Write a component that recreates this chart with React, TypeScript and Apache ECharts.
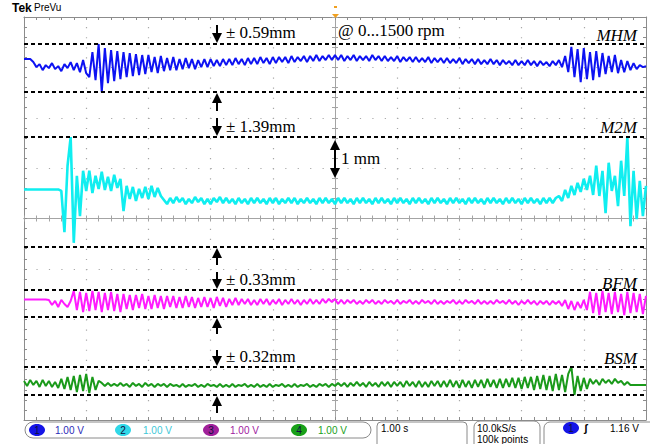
import React, { useEffect, useRef } from "react";
import * as echarts from "echarts";

// time base: 10 divisions x 1.00 s/div, sample step in seconds
const STEP = 0.05;

// channel display positions (in divisions from screen centre)
const CH_POS = { MHM: 3.105, M2M: 0.347, BFM: -1.657, BSM: -3.284 };

// channel 1 (MHM) – values in V (1.00 V/div)
const mhm = [
  0.06, 0.06, 0.06, 0.0, -0.1, -0.04, -0.16, -0.06, -0.12, -0.02,
  -0.14, -0.08, -0.18, -0.04, -0.12, 0.0, -0.16, -0.02, -0.2, 0.04,
  -0.22, -0.3, 0.2, -0.36, 0.36, -0.6, 0.28, -0.42, 0.24, -0.38,
  0.22, -0.34, 0.2, -0.3, 0.18, -0.28, 0.16, -0.26, 0.14, -0.24,
  0.14, -0.2, 0.1, -0.22, 0.12, -0.18, 0.08, -0.16, 0.1, -0.16,
  0.06, -0.14, 0.08, -0.12, 0.06, -0.14, 0.04, -0.1, 0.06, -0.1,
  0.06, -0.08, 0.04, -0.08, 0.06, -0.06, 0.06, -0.06, 0.08, -0.04,
  0.06, -0.06, 0.08, -0.04, 0.08, -0.04, 0.1, -0.02, 0.08, -0.04,
  0.1, -0.02, 0.1, 0.0, 0.1, -0.02, 0.12, 0.0, 0.1, 0.02,
  0.12, 0.0, 0.12, 0.02, 0.14, 0.02, 0.12, 0.04, 0.14, 0.04,
  0.14, 0.04, 0.14, 0.02, 0.12, 0.04, 0.14, 0.02, 0.12, 0.04,
  0.12, 0.02, 0.14, 0.04, 0.12, 0.02, 0.12, 0.02, 0.1, 0.02,
  0.12, 0.0, 0.1, 0.02, 0.1, 0.0, 0.1, 0.0, 0.08, 0.0,
  0.1, -0.02, 0.08, 0.0, 0.08, -0.02, 0.08, -0.02, 0.06, -0.02,
  0.08, -0.04, 0.06, -0.02, 0.06, -0.04, 0.06, -0.04, 0.04, -0.04,
  0.06, -0.04, 0.04, -0.06, 0.04, -0.04, 0.02, -0.06, 0.04, -0.06,
  0.02, -0.06, 0.04, -0.06, 0.02, -0.08, 0.02, -0.06, 0.0, -0.08,
  0.02, -0.06, 0.04, -0.1, 0.12, -0.2, 0.3, -0.3, 0.26, -0.4,
  0.28, -0.34, 0.2, -0.36, 0.22, -0.3, 0.18, -0.24, 0.12, -0.2,
  0.14, -0.22, 0.04, -0.2, 0.02, -0.16, -0.02, -0.14, -0.06, -0.1,
  -0.08,
];

// channel 2 (M2M)
const m2m = [
  0.23, 0.23, 0.23, 0.23, 0.23, 0.23, 0.23, 0.23, 0.23, 0.23, 0.23, 0.23,
  0.2, -0.62, 0.7, 1.27, -0.83, 0.5, -0.3, 0.6,
  0.2, 0.6, 0.16, 0.5, 0.24, 0.58, 0.22, 0.48, 0.2, 0.52, 0.26, 0.44,
  -0.2,
  0.3, 0.04, 0.28, 0.0, 0.24, 0.06, 0.28, 0.04, 0.3, 0.08, 0.26, 0.1,
  0.02, -0.06, 0.06, -0.04, 0.08, -0.02, 0.06, -0.06, 0.04, -0.04,
  0.08, -0.02, 0.06, -0.06, 0.04, -0.06, 0.06, -0.02, 0.08, -0.04,
  0.06, -0.04, 0.04, -0.06, 0.06, -0.04, 0.04, -0.06, 0.06, -0.04,
  0.06, -0.04, 0.04, -0.06, 0.06, -0.04, 0.06, -0.06, 0.04, -0.04,
  0.06, -0.04, 0.06, -0.06, 0.04, -0.04, 0.06, -0.04, 0.04, -0.06,
  0.06, -0.04, 0.06, -0.04, 0.04, -0.06, 0.06, -0.04, 0.06, -0.04,
  0.04, -0.06, 0.06, -0.04, 0.06, -0.04, 0.04, -0.06, 0.06, -0.04,
  0.06, -0.04, 0.04, -0.06, 0.06, -0.04, 0.06, -0.04, 0.04, -0.06,
  0.06, -0.04, 0.06, -0.04, 0.04, -0.06, 0.06, -0.04, 0.06, -0.04,
  0.04, -0.06, 0.06, -0.04, 0.06, -0.04, 0.04, -0.06, 0.06, -0.04,
  0.06, -0.04, 0.04, -0.06, 0.06, -0.04, 0.06, -0.04, 0.04, -0.06,
  0.06, -0.04, 0.06, -0.04, 0.04, -0.06, 0.06, -0.04, 0.06, -0.04,
  0.04, -0.06, 0.06, -0.04, 0.06, -0.04, 0.06,
  0.1, 0.0, 0.22, 0.06, 0.3, 0.12, 0.36, 0.18, 0.44, 0.22, 0.5,
  0.12, 0.7, 0.1, 0.6, -0.24, 0.76, 0.2, 0.5, -0.1, 0.8, 0.1,
  1.27, -0.5, 0.6, -0.36, 0.4, -0.3, 0.3,
];

// channel 3 (BFM)
const bfm = [
  0.05, 0.05, 0.05, 0.05, 0.05, 0.05, 0.05, 0.05,
  0.04, -0.06, 0.02, -0.1, 0.04, -0.04, -0.1, 0.02,
  0.22, -0.16, 0.2, -0.2, 0.18, -0.18, 0.22, -0.16, 0.2, -0.2, 0.18, -0.16, 0.2, -0.18, 0.16, -0.2,
  0.16, -0.14, 0.14, -0.16, 0.14, -0.12, 0.16, -0.14, 0.12, -0.14, 0.14, -0.12, 0.12, -0.14, 0.12, -0.1,
  0.12, -0.12, 0.1, -0.12, 0.12, -0.1, 0.1, -0.12, 0.08, -0.1, 0.1, -0.1, 0.08, -0.12, 0.1, -0.08, 0.08, -0.1,
  0.06, -0.06, 0.08, -0.06, 0.06, -0.04, 0.06, -0.06, 0.04, -0.06, 0.06, -0.04, 0.06, -0.06, 0.04, -0.04,
  0.06, -0.06, 0.04, -0.04, 0.06, -0.04, 0.04, -0.06, 0.04, -0.04, 0.06, -0.04, 0.04, -0.04, 0.06, -0.02, 0.06,
  0.0, 0.06, -0.04, 0.04, -0.04, 0.04, -0.02, 0.04, -0.04, 0.02,
  -0.04, 0.04, -0.02, 0.04, -0.04, 0.02, -0.04, 0.04, -0.02, 0.02,
  -0.04, 0.04, -0.04, 0.02, -0.02, 0.04, -0.04, 0.02, -0.04, 0.04,
  -0.02, 0.02, -0.04, 0.04, -0.04, 0.02, -0.04, 0.02, -0.02, 0.04,
  -0.04, 0.02, -0.04, 0.04, -0.02, 0.02, -0.04, 0.04, -0.04, 0.02,
  -0.04, 0.02, -0.04, 0.04, -0.02, 0.02, -0.04, 0.04, -0.04, 0.02,
  -0.06, 0.02, -0.04, 0.04, -0.04, 0.02, -0.06, 0.02, -0.04, 0.02,
  -0.06, 0.02, -0.04,
  0.02, -0.08, 0.04, -0.14, 0.02, -0.16, 0.0, -0.12, 0.04, -0.16,
  0.2, -0.22, 0.18, -0.26, 0.22, -0.2, 0.18, -0.24, 0.2, -0.2, 0.16, -0.26, 0.2, -0.22, 0.18, -0.2, 0.16, -0.24, 0.12,
];

// channel 4 (BSM)
const bsm = [
  0.06, -0.04, 0.08, -0.02, 0.06, -0.06, 0.08, -0.04, 0.06, -0.06, 0.04, -0.08,
  0.1, -0.1, 0.14, -0.12, 0.16, -0.16, 0.18, -0.14, 0.2, -0.18, 0.14, -0.12, 0.06,
  0.02, -0.04, 0.02, -0.04, 0.0, -0.04, 0.02, -0.04, 0.0, -0.06,
  0.02, -0.04, 0.0, -0.06, 0.02, -0.04, 0.0, -0.06, 0.0, -0.04,
  0.0, -0.06, 0.0, -0.04, -0.02, -0.06, 0.0, -0.06, -0.02, -0.04,
  0.0, -0.06, -0.02, -0.06, 0.0, -0.04, -0.02, -0.06, 0.0, -0.06,
  -0.02, -0.06, 0.0, -0.06, -0.02, -0.04, 0.0, -0.06, -0.02, -0.06,
  0.0, -0.06, -0.02, -0.06, 0.0, -0.06, -0.02, -0.04, 0.0, -0.06,
  -0.02, -0.06, 0.0, -0.06, -0.02, -0.04, 0.0, -0.06, -0.02, -0.06,
  0.0, -0.04, 0.0, -0.06,
  0.0, -0.04, 0.02, -0.04, 0.02, -0.06, 0.02, -0.04, 0.04, -0.04,
  0.02, -0.06, 0.04, -0.04, 0.02, -0.06, 0.04, -0.04, 0.04, -0.06,
  0.04, -0.04, 0.04, -0.06, 0.06, -0.04, 0.04, -0.06, 0.06, -0.06,
  0.04, -0.06, 0.06, -0.04, 0.06, -0.06, 0.06, -0.06, 0.08, -0.06,
  0.06, -0.08, 0.08, -0.06, 0.06, -0.08, 0.08, -0.06, 0.08, -0.08,
  0.1, -0.06, 0.08, -0.08, 0.1, -0.08, 0.1, -0.06, 0.12, -0.08,
  0.12, -0.1, 0.14, -0.08, 0.14, -0.12, 0.16, -0.1, 0.18, -0.12, 0.16, -0.14,
  0.2, -0.12, 0.18, -0.16, 0.2, 0.34, -0.22, 0.16, -0.14, 0.12, -0.1,
  0.1, 0.0, 0.08, -0.02, 0.1, 0.02, 0.08, 0.0, 0.1, 0.02, 0.06, -0.02, 0.04,
  -0.02, -0.02, -0.02, -0.02, -0.02, -0.02,
];

// dotted tolerance-band lines (divisions)
const bandLevels = [3.462, 2.51, 1.617, -0.565, -1.419, -1.954, -2.946, -3.502];

// annotation texts
const tolLabels = ["± 0.59mm", "± 1.39mm", "± 0.33mm", "± 0.32mm"];
const chLabels = ["MHM", "M2M", "BFM", "BSM"];
const speedLabel = "@ 0...1500 rpm";
const scaleLabel = "1 mm";
const chSettings = ["1.00 V", "1.00 V", "1.00 V", "1.00 V"];
const timeBase = "1.00 s";
const sampleRate = ["10.0kS/s", "100k points"];
const trigger = "1.16 V";

const COLORS = ["#0d12f2", "#10eef0", "#ff1aff", "#1a9a1a"];

const SERIF = "'Liberation Serif', 'Times New Roman', serif";
const SANS = "'Liberation Sans', Arial, sans-serif";

function toPoints(vals: number[], pos: number) {
  return vals.map((v, i) => [i * STEP, v + pos]);
}

function arrowDown(x: number, top: number, tip: number) {
  return [
    { type: "line", z: 50, shape: { x1: x, y1: top, x2: x, y2: tip - 8 }, style: { stroke: "#000", lineWidth: 2 } },
    { type: "polygon", z: 50, shape: { points: [[x - 5, tip - 10], [x + 5, tip - 10], [x, tip]] }, style: { fill: "#000" } },
  ];
}
function arrowUp(x: number, tip: number, bottom: number) {
  return [
    { type: "line", z: 50, shape: { x1: x, y1: tip + 8, x2: x, y2: bottom }, style: { stroke: "#000", lineWidth: 2 } },
    { type: "polygon", z: 50, shape: { points: [[x - 5, tip + 10], [x + 5, tip + 10], [x, tip]] }, style: { fill: "#000" } },
  ];
}
function txt(x: number, y: number, text: string, opts: any = {}) {
  return {
    type: "text",
    z: 60,
    x,
    y,
    style: {
      text,
      fontFamily: opts.family || SERIF,
      fontSize: opts.size || 17,
      fontStyle: opts.italic ? "italic" : "normal",
      fontWeight: opts.bold ? "bold" : "normal",
      fill: opts.color || "#000",
      align: opts.align || "left",
      verticalAlign: "middle",
    },
  };
}

export default function App() {
  const ref = useRef<HTMLDivElement>(null);
  useEffect(() => {
    if (!ref.current) return;
    const chart = echarts.init(ref.current, undefined, { renderer: "svg" });

    const GRID_H = 403;
    const GRID_W = 622;
    const borderColor = "#8c8c8c";
    const centerColor = "#a4a4a4";
    const dotColor = "#a8a8a8";

    const baseX = (extra: any) => ({
      type: "value",
      min: 0,
      max: 10,
      interval: 1,
      axisLabel: { show: false },
      splitLine: { show: false },
      ...extra,
    });
    const baseY = (extra: any) => ({
      type: "value",
      min: -4,
      max: 4,
      interval: 1,
      axisLabel: { show: false },
      splitLine: { show: false },
      ...extra,
    });
    const tickStyle = (color: string, inside: boolean) => ({
      axisLine: { show: true, onZero: false, lineStyle: { color, width: 1 } },
      axisTick: { show: true, inside, length: 3, lineStyle: { color } },
      minorTick: { show: true, splitNumber: 5, length: 3, lineStyle: { color } },
    });

    const ann: any[] = [];
    // Tek header
    ann.push(txt(12, 8, "Tek", { family: SANS, size: 12, bold: true }));
    ann.push(txt(34, 7, "PreVu", { family: SANS, size: 10 }));
    // trigger marker
    ann.push({ type: "rect", z: 50, shape: { x: 334, y: 6, width: 3, height: 2 }, style: { fill: "#f0a020" } });
    ann.push({ type: "polygon", z: 50, shape: { points: [[332, 14], [339, 14], [335.5, 18]] }, style: { fill: "#f0a020" } });

    // tolerance arrows and labels
    const ax = 217;
    ann.push(...arrowDown(ax, 25, 43), ...arrowUp(ax, 93, 111));
    ann.push(...arrowDown(ax, 118, 136), ...arrowUp(ax, 248, 265));
    ann.push(...arrowDown(ax, 272, 289), ...arrowUp(ax, 318, 334));
    ann.push(...arrowDown(ax, 350, 366), ...arrowUp(ax, 396, 413));
    const tolY = [32, 126, 279, 356];
    tolLabels.forEach((t, i) => ann.push(txt(226, tolY[i], t)));
    const labY = [35, 127, 283, 358];
    chLabels.forEach((t, i) => ann.push(txt(637, labY[i], t, { italic: true, align: "right" })));
    ann.push(txt(338, 30, speedLabel));
    // 1 mm scale double arrow
    ann.push({ type: "line", z: 50, shape: { x1: 335, y1: 148, x2: 335, y2: 170 }, style: { stroke: "#000", lineWidth: 2 } });
    ann.push({ type: "polygon", z: 50, shape: { points: [[330, 150], [340, 150], [335, 140]] }, style: { fill: "#000" } });
    ann.push({ type: "polygon", z: 50, shape: { points: [[330, 168], [340, 168], [335, 178]] }, style: { fill: "#000" } });
    ann.push(txt(341, 158, scaleLabel));

    // status bar
    const boxStroke = "#8a8a8a";
    ann.push({ type: "rect", z: 40, shape: { x: 25, y: 422, width: 346, height: 16, r: 8 }, style: { fill: "#fff", stroke: boxStroke, lineWidth: 1 } });
    ann.push({ type: "rect", z: 40, shape: { x: 377, y: 422, width: 90, height: 30, r: 4 }, style: { fill: "#fff", stroke: boxStroke, lineWidth: 1 } });
    ann.push({ type: "rect", z: 40, shape: { x: 474, y: 421, width: 66, height: 30, r: 6 }, style: { fill: "#fff", stroke: boxStroke, lineWidth: 1 } });
    ann.push({ type: "rect", z: 40, shape: { x: 544, y: 422, width: 120, height: 30, r: 6 }, style: { fill: "#fff", stroke: boxStroke, lineWidth: 1 } });
    const circFill = ["#1414e6", "#30d8e8", "#a0209a", "#18a018"];
    const setColor = ["#2a2ab8", "#40c8d8", "#a020a0", "#20a020"];
    const circX = [37, 123, 211, 299];
    const setX = [55, 143, 230, 318];
    chSettings.forEach((s, i) => {
      ann.push({ type: "ellipse", z: 45, shape: { cx: circX[i], cy: 430, rx: 8, ry: 6 }, style: { fill: circFill[i] } });
      ann.push(txt(circX[i], 430.5, String(i + 1), { family: SANS, size: 10, align: "center", color: "#101040" }));
      ann.push(txt(setX[i], 430.5, s, { family: SANS, size: 10, color: setColor[i] }));
    });
    ann.push(txt(381, 428, timeBase, { family: SANS, size: 10 }));
    ann.push(txt(477, 428, sampleRate[0], { family: SANS, size: 10 }));
    ann.push(txt(477, 439, sampleRate[1], { family: SANS, size: 10 }));
    ann.push({ type: "ellipse", z: 45, shape: { cx: 571, cy: 428, rx: 8, ry: 6 }, style: { fill: circFill[0] } });
    ann.push(txt(571, 428.5, "1", { family: SANS, size: 10, align: "center", color: "#101040" }));
    ann.push(txt(584, 428, "ʃ", { family: SANS, size: 11, bold: true }));
    ann.push(txt(610, 428, trigger, { family: SANS, size: 10 }));

    const series: any[] = [
      { name: "MHM", data: toPoints(mhm, CH_POS.MHM), color: COLORS[0], width: 2 },
      { name: "M2M", data: toPoints(m2m, CH_POS.M2M), color: COLORS[1], width: 2.6 },
      { name: "BFM", data: toPoints(bfm, CH_POS.BFM), color: COLORS[2], width: 2 },
      { name: "BSM", data: toPoints(bsm, CH_POS.BSM), color: COLORS[3], width: 2 },
    ].map((s, i) => ({
      type: "line",
      name: s.name,
      data: s.data,
      showSymbol: false,
      symbol: "none",
      xAxisIndex: 0,
      yAxisIndex: 0,
      z: 10,
      lineStyle: { color: s.color, width: s.width },
      itemStyle: { color: s.color },
      silent: true,
      markLine:
        i === 0
          ? {
              symbol: "none",
              silent: true,
              z: 20,
              label: { show: false },
              lineStyle: { color: "#000", type: [4, 3], width: 2 },
              data: bandLevels.map((y) => ({ yAxis: y })),
            }
          : undefined,
    }));

    chart.setOption({
      animation: false,
      backgroundColor: "#ffffff",
      grid: { left: 24, top: 17, width: GRID_W, height: GRID_H, containLabel: false },
      xAxis: [
        baseX({
          position: "bottom",
          ...tickStyle(borderColor, true),
          splitLine: { show: true, lineStyle: { color: dotColor, width: 1.2, type: [1.2, 8.88] } },
        }),
        baseX({ position: "top", ...tickStyle(borderColor, true) }),
        baseX({ position: "bottom", offset: -GRID_H / 2, ...tickStyle(centerColor, true) }),
        baseX({ position: "bottom", offset: -GRID_H / 2, ...tickStyle(centerColor, false) }),
      ],
      yAxis: [
        baseY({
          position: "left",
          ...tickStyle(borderColor, true),
          splitLine: { show: true, lineStyle: { color: dotColor, width: 1.2, type: [1.2, 11.24] } },
        }),
        baseY({ position: "right", ...tickStyle(borderColor, true) }),
        baseY({ position: "left", offset: -GRID_W / 2, ...tickStyle(centerColor, true) }),
        baseY({ position: "left", offset: -GRID_W / 2, ...tickStyle(centerColor, false) }),
      ],
      series,
      graphic: { elements: ann },
    });
    return () => chart.dispose();
  }, []);

  return (
    <div
      ref={ref}
      style={{ position: "fixed", left: 0, top: 0, width: 650, height: 444, background: "#fff" }}
    />
  );
}
